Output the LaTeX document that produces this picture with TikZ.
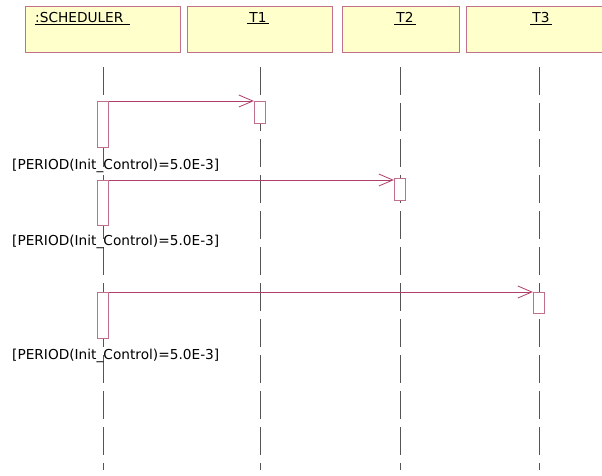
\documentclass[tikz,border=0pt]{standalone}
\usepackage{fontspec}
\setmainfont{DejaVu Sans}
\usetikzlibrary{arrows.meta}
\definecolor{boxfill}{HTML}{FFFFCC}
\definecolor{boxline}{HTML}{C0708A}
\definecolor{msgline}{HTML}{B0406A}
\definecolor{lifegray}{HTML}{555555}

\begin{document}
\begin{tikzpicture}[x=1pt, y=-1pt, font=\fontsize{13.7}{16}\selectfont]
    \tikzstyle{object} = [draw=boxline, fill=boxfill, line width=0.8pt, minimum height=46pt, anchor=north west, inner sep=0pt]
    \tikzstyle{title} = [anchor=north, inner sep=0pt]
    \tikzstyle{life} = [draw=lifegray, line width=0.8pt, dash pattern=on 28pt off 8pt]
    \tikzstyle{act} = [draw=boxline, fill=white, line width=0.8pt, minimum width=11.5pt, anchor=north, inner sep=0pt]
    \tikzstyle{msg} = [draw=msgline, line width=0.8pt, -{Straight Barb[length=14pt, width=12pt]}]
    \tikzstyle{guard} = [anchor=base west, inner sep=0pt]

    \useasboundingbox (0,0) rectangle (602,475);
    \clip (0,0) rectangle (602,475);

    % objects
    \node [object, minimum width=155pt] (Sched) at (25,6) {};
    \node [object, minimum width=145pt] (T1) at (187,6) {};
    \node [object, minimum width=117pt] (T2) at (342,6) {};
    \node [object, minimum width=150pt] (T3) at (466,6) {};

    \node [title, anchor=north west] (SchedName) at (35,12) {\underline{:SCHEDULER\ \,}};
    \node [title] (T1Name) at (258,12) {\underline{\,T1\,}};
    \node [title] (T2Name) at (405,12) {\underline{\,T2\,}};
    \node [title] (T3Name) at (541,12) {\underline{\,T3\,}};

    % lifelines
    \foreach \x/\n in {103/S, 260/A, 400/B, 539/C} {
        \coordinate (\n top) at (\x,67);
        \coordinate (\n end) at (\x,470);
        \draw [life] (\n top) -- (\n end);
    }

    % activations
    \node [act, minimum height=46pt] (S1) at (103,101) {};
    \node [act, minimum height=45pt] (S2) at (103,180) {};
    \node [act, minimum height=46pt] (S3) at (103,292) {};

    \node [act, minimum height=22pt] (A1) at (260,101) {};
    \node [act, minimum height=22pt] (B1) at (400,178) {};
    \node [act, minimum height=21pt] (C1) at (539,292) {};

    % messages
    \draw [msg] (S1.north east) -- (A1.north west);
    \draw [msg] (S2.north east) -- (S2.north east -| B1.west);
    \draw [msg] (S3.north east) -- (C1.north west);

    % guards
    \node [guard] (G1) at (12,169) {[PERIOD(Init\_Control)=5.0E-3]};
    \node [guard] (G2) at (12,245) {[PERIOD(Init\_Control)=5.0E-3]};
    \node [guard] (G3) at (12,359) {[PERIOD(Init\_Control)=5.0E-3]};
\end{tikzpicture}
\end{document}
